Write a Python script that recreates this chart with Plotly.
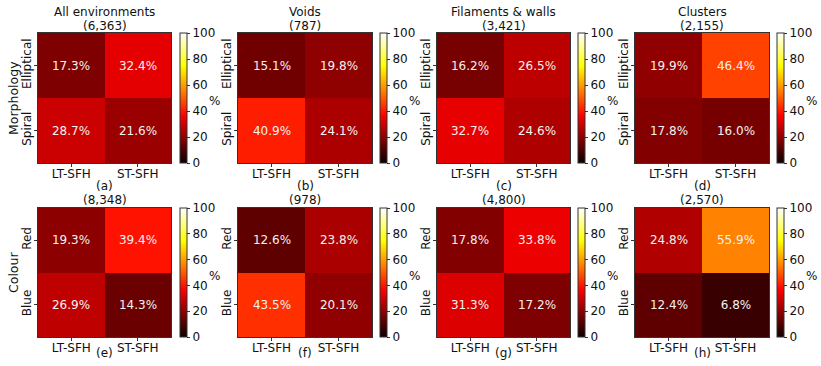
import plotly.graph_objects as go

W, H = 821, 366

x_labels = ["LT-SFH", "ST-SFH"]
morph_labels = ["Elliptical", "Spiral"]
colour_labels = ["Red", "Blue"]

top_titles = ["All environments", "Voids", "Filaments & walls", "Clusters"]
top_counts = ["(6,363)", "(787)", "(3,421)", "(2,155)"]
bottom_counts = ["(8,348)", "(978)", "(4,800)", "(2,570)"]
panel_letters = ["(a)", "(b)", "(c)", "(d)", "(e)", "(f)", "(g)", "(h)"]

morph_all = [[17.3, 32.4], [28.7, 21.6]]
morph_voids = [[15.1, 19.8], [40.9, 24.1]]
morph_fil = [[16.2, 26.5], [32.7, 24.6]]
morph_clu = [[19.9, 46.4], [17.8, 16.0]]
colour_all = [[19.3, 39.4], [26.9, 14.3]]
colour_voids = [[12.6, 23.8], [43.5, 20.1]]
colour_fil = [[17.8, 33.8], [31.3, 17.2]]
colour_clu = [[24.8, 55.9], [12.4, 6.8]]

cbar_ticks = [0, 20, 40, 60, 80, 100]

# matplotlib 'hot' colormap
hot = [
    [0.0, "rgb(11,0,0)"],
    [0.365079, "rgb(255,0,0)"],
    [0.746032, "rgb(255,255,0)"],
    [1.0, "rgb(255,255,255)"],
]

def px(x):
    return x / W

def py(y):
    return 1 - y / H

col_x = [(38, 171), (238, 372), (437, 570), (635, 769)]
cb_x = [180, 380, 578, 777]
row_y = [(33, 163), (208, 337)]

data = [morph_all, morph_voids, morph_fil, morph_clu,
        colour_all, colour_voids, colour_fil, colour_clu]

fig = go.Figure()
FONT = "DejaVu Sans"
annotations = []

def ann(x, y, text, size=12, angle=0):
    return dict(x=px(x), y=py(y), xref="paper", yref="paper", text=text,
                showarrow=False, xanchor="center", yanchor="middle",
                textangle=angle,
                font=dict(family=FONT, size=size, color="#111"))

for i, z in enumerate(data):
    r, c = divmod(i, 4)
    n = i + 1
    xa = "x" if n == 1 else f"x{n}"
    ya = "y" if n == 1 else f"y{n}"
    ylabels = morph_labels if r == 0 else colour_labels
    y0, y1 = row_y[r]
    x0, x1 = col_x[c]
    fig.add_trace(go.Heatmap(
        z=z, x=x_labels, y=ylabels,
        zmin=0, zmax=100, colorscale=hot,
        texttemplate="%{z:.1f}%",
        textfont=dict(family=FONT, size=12, color="#f2f2f2"),
        xaxis=xa, yaxis=ya, hoverinfo="skip",
        colorbar=dict(
            x=px(cb_x[c]), xanchor="left", xpad=0,
            y=py((y0 + y1) / 2), yanchor="middle", ypad=0,
            len=(y1 - y0) / H, lenmode="fraction",
            thickness=7, outlinewidth=1, outlinecolor="#333",
            tickvals=cbar_ticks, ticks="outside", ticklen=3,
            tickcolor="#333",
            tickfont=dict(family=FONT, size=12, color="#111"),
        ),
    ))
    axkw = dict(showline=True, linecolor="#333", linewidth=1, mirror=True,
                ticks="outside", ticklen=3, tickcolor="#333", automargin=False,
                showgrid=False, zeroline=False, fixedrange=True)
    fig.layout[f"xaxis{'' if n == 1 else n}"] = dict(
        domain=[px(x0), px(x1)], anchor=ya, ticklabelstandoff=-3,
        tickfont=dict(family=FONT, size=12, color="#111"), **axkw)
    fig.layout[f"yaxis{'' if n == 1 else n}"] = dict(
        domain=[py(y1), py(y0)], anchor=xa, autorange="reversed",
        tickangle=-90, ticklabelstandoff=-2,
        tickfont=dict(family=FONT, size=12, color="#111"), **axkw)

    cx = (x0 + x1) / 2
    annotations.append(ann(cx, 186 if r == 0 else 353, panel_letters[i]))
    if r == 0:
        annotations.append(ann(cx, 12, top_titles[c]))
        annotations.append(ann(cx, 26, top_counts[c]))
    else:
        annotations.append(ann(cx, 200, bottom_counts[c]))
    annotations.append(ann(cb_x[c] + 34, (y0 + y1) / 2 + 3, "%"))

annotations.append(ann(13, 98, "Morphology", size=12.5, angle=-90))
annotations.append(ann(13, 272, "Colour", size=12.5, angle=-90))

fig.update_layout(
    template="none",
    width=W, height=H, autosize=False,
    margin=dict(l=0, r=0, t=0, b=0, pad=0),
    paper_bgcolor="white", plot_bgcolor="white",
    annotations=annotations,
    showlegend=False,
)

fig.write_html("out.html", config={"displayModeBar": False},
               post_script="document.body.style.margin='0';document.body.style.overflow='hidden';")
